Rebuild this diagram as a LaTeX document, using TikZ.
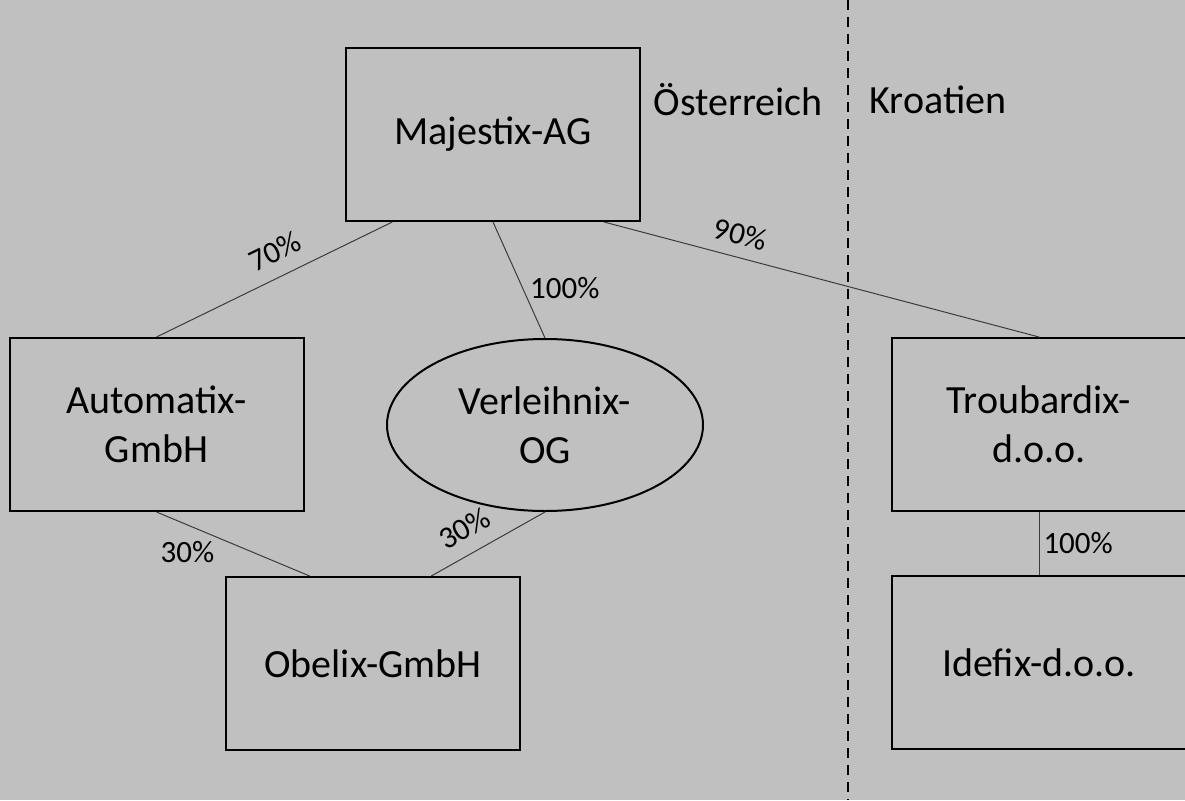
\documentclass[tikz,border=0pt]{standalone}
\usepackage{fontspec}
\setmainfont{Carlito}
\usetikzlibrary{calc}
\definecolor{bg}{RGB}{192,192,192}
\definecolor{linkgray}{RGB}{60,60,60}
\tikzset{
  company/.style={draw=black, line width=2pt, minimum width=294pt, minimum height=173pt,
    inner sep=0pt, align=center, font=\fontsize{40}{49}\selectfont},
  partner/.style={draw=black, line width=2pt, ellipse, minimum width=316pt, minimum height=172pt,
    inner sep=0pt, align=center, font=\fontsize{40}{49}\selectfont},
  link/.style={draw=linkgray, line width=1pt},
  share/.style={font=\fontsize{31}{37}\selectfont, inner sep=3pt},
  country/.style={font=\fontsize{40}{49}\selectfont, inner sep=0pt},
  border/.style={draw=black, line width=2.5pt, dash pattern=on 10pt off 7pt}
}
\usetikzlibrary{shapes.geometric}
\begin{document}
\begin{tikzpicture}[x=1pt, y=-1pt]
  \fill[bg] (0,0) rectangle (1185,800);
  \useasboundingbox (0,0) rectangle (1185,800);

  % national border
  \coordinate (btop) at (848,0);
  \coordinate (bbot) at (848,800);
  \draw[border] (btop) -- (bbot);
  \node[country] (at) at (738,100) {Österreich};
  \node[country] (hr) at (938,100) {Kroatien};

  % companies
  \node[company] (maj) at (493,134.5) {Majestix-AG};
  \node[company] (aut) at (156.5,424.5) {Automatix-\\GmbH};
  \node[partner] (ver) at (545,425) {Verleihnix-\\OG};
  \node[company] (obe) at (373,663.5) {Obelix-GmbH};
  \node[company] (tro) at (1039,424.5) {Troubardix-\\d.o.o.};
  \node[company] (ide) at (1039,662.5) {Idefix-d.o.o.};

  % attachment points on the box edges
  \coordinate (majA) at ($(maj.south west)!0.16!(maj.south east)$);
  \coordinate (majC) at ($(maj.south west)!0.875!(maj.south east)$);
  \coordinate (obeA) at ($(obe.north west)!0.286!(obe.north east)$);
  \coordinate (obeB) at ($(obe.north west)!0.697!(obe.north east)$);

  % shareholdings
  \draw[link] (aut.north) -- (majA)
    node[share, pos=0.55, sloped, above=11pt] {70\%};
  \draw[link] (maj.south) -- (ver.north)
    node[share, pos=0.57, right=4pt] {100\%};
  \draw[link] (majC) -- (tro.north)
    node[share, pos=0.3, sloped, above=9pt] {90\%};
  \draw[link] (aut.south) -- (obeA)
    node[share, pos=0.4, below left] {30\%};
  \draw[link] (obeB) -- (ver.south)
    node[share, pos=0.4, sloped, above=11pt] {30\%};
  \draw[link] (tro.south) -- (ide.north)
    node[share, midway, right=1pt] {100\%};
\end{tikzpicture}
\end{document}
